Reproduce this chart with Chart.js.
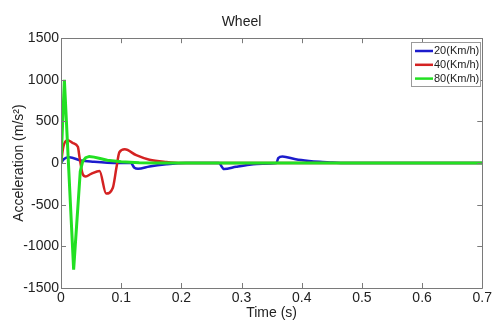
<!DOCTYPE html>
<html>
<head>
<meta charset="utf-8">
<script src="https://cdn.jsdelivr.net/npm/chart.js@4.4.1/dist/chart.umd.min.js"></script>
<style>
html,body{margin:0;padding:0;background:#fff;}
canvas{display:block;}
</style>
</head>
<body>
<canvas id="c" width="494" height="320"></canvas>
<script>
// ---- data ----
const titleText = "Wheel";
const xTitle = "Time (s)";
const yTitle = "Acceleration (m/s\u00B2)";
const xTicks = [0, 0.1, 0.2, 0.3, 0.4, 0.5, 0.6, 0.7];
const yTicks = [-1500, -1000, -500, 0, 500, 1000, 1500];
const seriesLabels = ["20(Km/h)", "40(Km/h)", "80(Km/h)"];

const blueT = [0, 0.005, 0.014, 0.033, 0.055, 0.077, 0.1, 0.116, 0.122, 0.128, 0.147, 0.175, 0.208, 0.262, 0.271, 0.291, 0.313, 0.335, 0.358, 0.361, 0.368, 0.39, 0.412, 0.43, 0.451, 0.47, 0.7];
const blueV = [0, 50, 70, 30, 15, 5, 2, 0, -55, -67, -40, -15, 0, 0, -72, -45, -20, -8, 0, 60, 80, 45, 25, 15, 8, 0, 0];

const redT = [0, 0.004, 0.011, 0.02, 0.028, 0.031, 0.036, 0.041, 0.05, 0.064, 0.075, 0.086, 0.092, 0.097, 0.106, 0.125, 0.147, 0.175, 0.2, 0.21, 0.7];
const redV = [0, 200, 275, 240, 195, 60, -130, -160, -130, -95, -365, -300, -60, 130, 165, 95, 40, 12, 0, 0, 0];

const greenT = [0, 0.0056, 0.021, 0.032, 0.036, 0.041, 0.047, 0.055, 0.065, 0.077, 0.1, 0.13, 0.16, 0.7];
const greenV = [0, 1000, -1280, -100, 20, 65, 80, 72, 55, 35, 15, 5, 0, 0];

const seriesColors = ["#1c1ccc", "#d42222", "#22e022"];

function pts(t, v) { return t.map((x, i) => ({x: x, y: v[i]})); }

const FONT = "'Liberation Sans', Arial, sans-serif";
const BOX = "#7a7a7a";

const matlabAxes = {
  id: 'matlabAxes',
  afterDatasetsDraw(chart) {
    const {ctx, chartArea: a, scales} = chart;
    ctx.save();
    ctx.strokeStyle = BOX;
    ctx.lineWidth = 1;
    ctx.beginPath();
    ctx.rect(Math.round(a.left) + 0.5, Math.round(a.top) + 0.5, Math.round(a.right - a.left), Math.round(a.bottom - a.top));
    ctx.stroke();
    const L = 5;
    ctx.beginPath();
    xTicks.forEach(v => {
      const x = Math.round(scales.x.getPixelForValue(v)) + 0.5;
      ctx.moveTo(x, a.bottom); ctx.lineTo(x, a.bottom - L);
      ctx.moveTo(x, a.top); ctx.lineTo(x, a.top + L);
    });
    yTicks.forEach(v => {
      const y = Math.round(scales.y.getPixelForValue(v)) + 0.5;
      ctx.moveTo(a.left, y); ctx.lineTo(a.left + L, y);
      ctx.moveTo(a.right, y); ctx.lineTo(a.right - L, y);
    });
    ctx.stroke();
    ctx.restore();
  },
  afterDraw(chart) {
    const {ctx, chartArea: a} = chart;
    const bx = Math.round(a.right - 71.5) + 0.5, by = Math.round(a.top + 3.5) + 0.5, bw = 69, bh = 44;
    ctx.save();
    ctx.fillStyle = "#fff";
    ctx.fillRect(bx, by, bw, bh);
    ctx.strokeStyle = "#9a9a9a";
    ctx.lineWidth = 1;
    ctx.strokeRect(bx, by, bw, bh);
    ctx.font = "11px " + FONT;
    ctx.textBaseline = "middle";
    ctx.textAlign = "left";
    seriesLabels.forEach((lab, i) => {
      const y = by + 8.5 + i * 13.8;
      ctx.strokeStyle = seriesColors[i];
      ctx.lineWidth = 2.5;
      ctx.beginPath();
      ctx.moveTo(bx + 3.5, y); ctx.lineTo(bx + 21.5, y);
      ctx.stroke();
      ctx.fillStyle = "#222";
      ctx.fillText(lab, bx + 22.5, y);
    });
    ctx.restore();
  }
};

new Chart(document.getElementById('c'), {
  type: 'line',
  data: {
    datasets: [
      {label: seriesLabels[0], data: pts(blueT, blueV), borderColor: seriesColors[0], borderWidth: 2.5, pointRadius: 0, cubicInterpolationMode: 'monotone', order: 3},
      {label: seriesLabels[1], data: pts(redT, redV), borderColor: seriesColors[1], borderWidth: 2.5, pointRadius: 0, cubicInterpolationMode: 'monotone', order: 2},
      {label: seriesLabels[2], data: pts(greenT, greenV), borderColor: seriesColors[2], borderWidth: 3, pointRadius: 0, tension: 0, order: 1}
    ]
  },
  options: {
    responsive: false,
    animation: false,
    events: [],
    layout: {padding: {left: 0, right: 11, top: 0, bottom: 0}},
    plugins: {
      legend: {display: false},
      tooltip: {enabled: false},
      title: {display: true, text: titleText, color: "#222", font: {family: FONT, size: 14, weight: 'normal'}, padding: {top: 13.5, bottom: 7.9}}
    },
    scales: {
      x: {
        type: 'linear', min: 0, max: 0.7,
        afterBuildTicks: s => { s.ticks = xTicks.map(v => ({value: v})); },
        afterFit: s => { s.height = 32; },
        grid: {display: false, drawTicks: false},
        border: {display: false},
        ticks: {color: "#222", font: {family: FONT, size: 14}, padding: 2, maxRotation: 0, autoSkip: false,
                callback: v => String(Math.round(v * 10) / 10)},
        title: {display: true, text: xTitle, color: "#222", font: {family: FONT, size: 14}, padding: {top: 0, bottom: -1.5}}
      },
      y: {
        type: 'linear', min: -1500, max: 1500,
        afterBuildTicks: s => { s.ticks = yTicks.map(v => ({value: v})); },
        afterFit: s => { s.width = 61; },
        grid: {display: false, drawTicks: false},
        border: {display: false},
        ticks: {color: "#222", font: {family: FONT, size: 14}, padding: 2, autoSkip: false,
                callback: v => String(v)},
        title: {display: true, text: yTitle, color: "#222", font: {family: FONT, size: 14}, padding: {top: 11, bottom: 0}}
      }
    }
  },
  plugins: [matlabAxes]
});
</script>
</body>
</html>
